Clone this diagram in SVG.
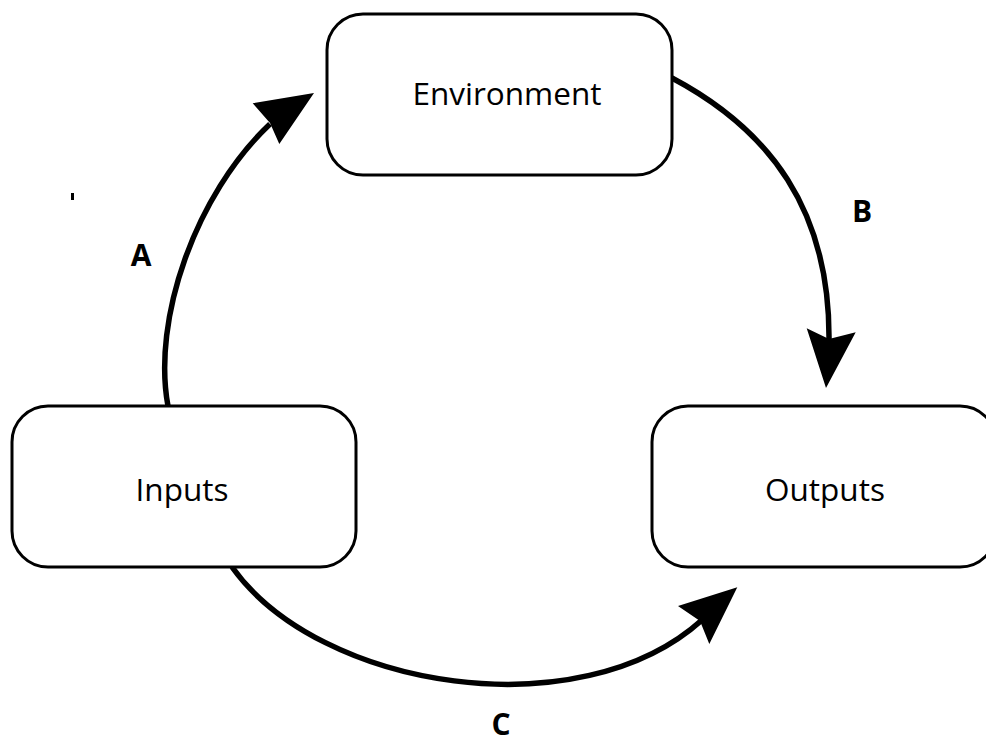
<svg xmlns="http://www.w3.org/2000/svg" width="986" height="743" viewBox="0 0 986 743">
  <style>
    .box { fill: #ffffff; stroke: #000000; stroke-width: 3; }
    .lbl { font-family: "Open Sans", "Liberation Sans", sans-serif; font-size: 31.5px; fill: #000000; text-anchor: middle; }
    .edge { fill: none; stroke: #000000; stroke-width: 5.5; }
    .head { fill: #000000; stroke: none; }
    .elbl { font-family: "Open Sans", "Liberation Sans", sans-serif; font-size: 30px; font-weight: bold; fill: #000000; text-anchor: middle; }
  </style>
  <rect x="0" y="0" width="986" height="743" fill="#ffffff"/>
  <g id="connectors">
    <g id="edge-A">
      <path class="edge" d="M168,406 C152,320 195,195 270,124"/>
      <polygon class="head" points="314,93 252.7,103.3 270,123 279.3,144"/>
      <text class="elbl" x="141" y="266">A</text>
    </g>
    <g id="edge-B">
      <path class="edge" d="M672,78 C770,130 830,210 829,340"/>
      <polygon class="head" points="826,388 806.7,328.3 829,339 855.7,332.3"/>
      <text class="elbl" x="862" y="222">B</text>
    </g>
    <g id="edge-C">
      <path class="edge" d="M232,567 C320,690 580,730 702,620"/>
      <polygon class="head" points="737.3,587.3 678,606 700,621 709.3,644"/>
      <text class="elbl" x="501" y="735" font-size="29px">C</text>
    </g>
  </g>
  <g id="node-environment">
    <rect class="box" x="327" y="14" width="345" height="161" rx="36" ry="36"/>
    <text class="lbl" x="507" y="105">Environment</text>
  </g>
  <g id="node-inputs">
    <rect class="box" x="12" y="406" width="344" height="161" rx="36" ry="36"/>
    <text class="lbl" x="182" y="501">Inputs</text>
  </g>
  <g id="node-outputs">
    <rect class="box" x="652" y="406" width="344" height="161" rx="36" ry="36"/>
    <text class="lbl" x="825" y="501">Outputs</text>
  </g>
  <rect x="71" y="193" width="3" height="7" fill="#000000"/>
</svg>
